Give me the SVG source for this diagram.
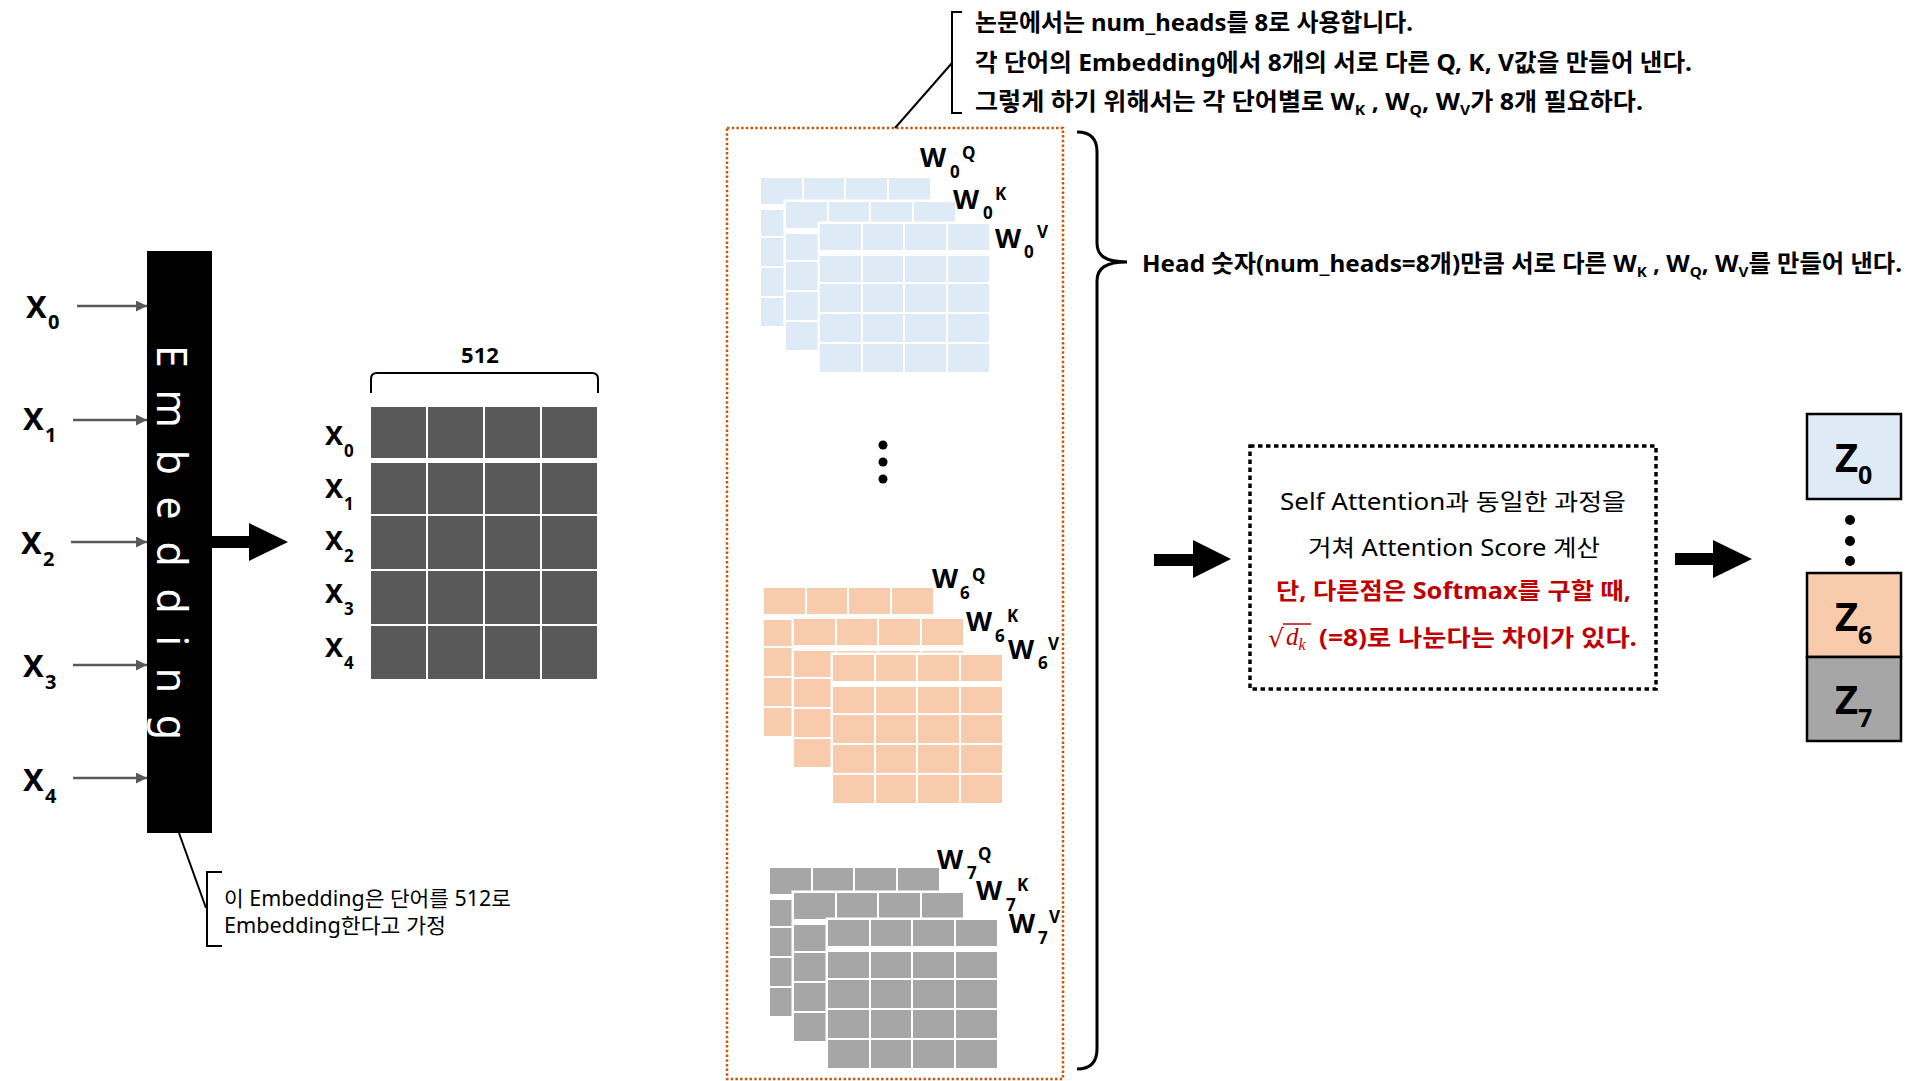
<svg xmlns="http://www.w3.org/2000/svg" xmlns:xlink="http://www.w3.org/1999/xlink" width="1932" height="1081" viewBox="0 0 1932 1081">
<style>
text{font-family:"Noto Sans","Noto Sans CJK KR",sans-serif;fill:#000}
.b{font-weight:700}
.r{font-weight:400}
.xl{font-size:31px;font-weight:700}
.xs{font-size:20px;font-weight:700}
.gl{font-size:27px;font-weight:700}
.gs{font-size:17px;font-weight:700}
.w{font-size:27px;font-weight:700}
.ws{font-size:17px;font-weight:700}
.note{font-size:24px;font-weight:700}
.red{fill:#C00000;font-weight:700;font-size:23px}
.att{font-size:23px;font-weight:400}
.z{font-size:40px;font-weight:700}
.zs{font-size:25px;font-weight:700}
.thin{fill:none;stroke:#000;stroke-width:2}
.gray{stroke:#595959;stroke-width:2.5;fill:none}
</style>
<defs>
<marker id="ah" markerUnits="userSpaceOnUse" markerWidth="12" markerHeight="12" refX="11" refY="5.5" orient="auto">
<path d="M0,0 L11,5.5 L0,11 z" fill="#595959"/>
</marker>
<g id="L">
<rect x="-2.5" y="-2.5" width="174" height="153" fill="#fff"/>
<rect x="0" y="0" width="41" height="26"/><rect x="43" y="0" width="40" height="26"/><rect x="85" y="0" width="41" height="26"/><rect x="128" y="0" width="41" height="26"/>
<rect x="0" y="32" width="41" height="26"/><rect x="43" y="32" width="40" height="26"/><rect x="85" y="32" width="41" height="26"/><rect x="128" y="32" width="41" height="26"/>
<rect x="0" y="60" width="41" height="28"/><rect x="43" y="60" width="40" height="28"/><rect x="85" y="60" width="41" height="28"/><rect x="128" y="60" width="41" height="28"/>
<rect x="0" y="90" width="41" height="28"/><rect x="43" y="90" width="40" height="28"/><rect x="85" y="90" width="41" height="28"/><rect x="128" y="90" width="41" height="28"/>
<rect x="0" y="120" width="41" height="28"/><rect x="43" y="120" width="40" height="28"/><rect x="85" y="120" width="41" height="28"/><rect x="128" y="120" width="41" height="28"/>
</g>
</defs>
<rect width="1932" height="1081" fill="#fff"/>

<!-- inputs -->
<g id="inputs">
<text class="xl" x="26" y="318">X<tspan class="xs" x="48" y="329">0</tspan></text>
<text class="xl" x="23" y="430">X<tspan class="xs" x="45" y="442">1</tspan></text>
<text class="xl" x="21" y="554">X<tspan class="xs" x="43" y="566">2</tspan></text>
<text class="xl" x="23" y="677">X<tspan class="xs" x="45" y="689">3</tspan></text>
<text class="xl" x="23" y="791">X<tspan class="xs" x="45" y="803">4</tspan></text>
</g>

<g id="embedding">
<rect x="147" y="251" width="65" height="582" fill="#000"/>
<text transform="translate(157,345) rotate(90)" x="0" y="0" font-size="41" style="fill:#fff;font-weight:400" textLength="395" lengthAdjust="spacing">Embedding</text>
</g>

<g id="matrix">
<text class="b" x="480" y="363" font-size="22" text-anchor="middle">512</text>
<path class="thin" d="M371,393 L371,379 Q371,373 377,373 L592,373 Q598,373 598,379 L598,393"/>
<g fill="#595959">
<rect x="371" y="407" width="55" height="51"/><rect x="428" y="407" width="55" height="51"/><rect x="485" y="407" width="55" height="51"/><rect x="542" y="407" width="55" height="51"/>
<rect x="371" y="463" width="55" height="51"/><rect x="428" y="463" width="55" height="51"/><rect x="485" y="463" width="55" height="51"/><rect x="542" y="463" width="55" height="51"/>
<rect x="371" y="516" width="55" height="53"/><rect x="428" y="516" width="55" height="53"/><rect x="485" y="516" width="55" height="53"/><rect x="542" y="516" width="55" height="53"/>
<rect x="371" y="571" width="55" height="53"/><rect x="428" y="571" width="55" height="53"/><rect x="485" y="571" width="55" height="53"/><rect x="542" y="571" width="55" height="53"/>
<rect x="371" y="626" width="55" height="53"/><rect x="428" y="626" width="55" height="53"/><rect x="485" y="626" width="55" height="53"/><rect x="542" y="626" width="55" height="53"/>
</g>
<text class="gl" x="325" y="445">X<tspan class="gs" x="344" y="457">0</tspan></text>
<text class="gl" x="325" y="498">X<tspan class="gs" x="344" y="510">1</tspan></text>
<text class="gl" x="325" y="550">X<tspan class="gs" x="344" y="562">2</tspan></text>
<text class="gl" x="325" y="603">X<tspan class="gs" x="344" y="615">3</tspan></text>
<text class="gl" x="325" y="657">X<tspan class="gs" x="344" y="669">4</tspan></text>
</g>

<g id="embed-note">
<path class="thin" d="M222,872 L207,872 L207,946 L222,946"/>
<text class="r" x="224" y="906" font-size="21" textLength="287" lengthAdjust="spacingAndGlyphs">이 Embedding은 단어를 512로</text>
<text class="r" x="224" y="933" font-size="21" textLength="222" lengthAdjust="spacingAndGlyphs">Embedding한다고 가정</text>
</g>

<g id="heads">
<rect x="727" y="128" width="336" height="951" fill="none" stroke="#C55A11" stroke-width="2.5" stroke-dasharray="2.5 2.2"/>
<use xlink:href="#L" href="#L" x="761" y="178" fill="#DEEBF7"/>
<use xlink:href="#L" href="#L" x="786" y="202" fill="#DEEBF7"/>
<use xlink:href="#L" href="#L" x="820" y="224" fill="#DEEBF7"/>
<text class="w" x="920" y="167">W<tspan class="ws" x="950" y="178">0</tspan><tspan class="ws" x="962" y="159">Q</tspan></text>
<text class="w" x="953" y="209">W<tspan class="ws" x="983" y="219">0</tspan><tspan class="ws" x="995" y="200">K</tspan></text>
<text class="w" x="995" y="248">W<tspan class="ws" x="1024" y="258">0</tspan><tspan class="ws" x="1037" y="238">V</tspan></text>
<circle cx="883" cy="445" r="4.5"/><circle cx="883" cy="462" r="4.5"/><circle cx="883" cy="479" r="4.5"/>
<use xlink:href="#L" href="#L" x="764" y="588" fill="#F8CBAD"/>
<use xlink:href="#L" href="#L" x="794" y="619" fill="#F8CBAD"/>
<use xlink:href="#L" href="#L" x="833" y="655" fill="#F8CBAD"/>
<text class="w" x="932" y="588">W<tspan class="ws" x="960" y="599">6</tspan><tspan class="ws" x="972" y="581">Q</tspan></text>
<text class="w" x="966" y="631">W<tspan class="ws" x="995" y="642">6</tspan><tspan class="ws" x="1007" y="622">K</tspan></text>
<text class="w" x="1008" y="659">W<tspan class="ws" x="1038" y="669">6</tspan><tspan class="ws" x="1048" y="650">V</tspan></text>
<use xlink:href="#L" href="#L" x="770" y="868" fill="#A6A6A6"/>
<use xlink:href="#L" href="#L" x="794" y="893" fill="#A6A6A6"/>
<use xlink:href="#L" href="#L" x="828" y="920" fill="#A6A6A6"/>
<text class="w" x="937" y="869">W<tspan class="ws" x="967" y="879">7</tspan><tspan class="ws" x="978" y="860">Q</tspan></text>
<text class="w" x="976" y="900">W<tspan class="ws" x="1006" y="911">7</tspan><tspan class="ws" x="1017" y="891">K</tspan></text>
<text class="w" x="1009" y="933">W<tspan class="ws" x="1038" y="944">7</tspan><tspan class="ws" x="1049" y="923">V</tspan></text>
</g>

<g id="top-note">
<path class="thin" d="M962,12 L952,12 L952,113 L962,113"/>
<text class="note" x="975" y="31" textLength="438" lengthAdjust="spacingAndGlyphs">논문에서는 num_heads를 8로 사용합니다.</text>
<text class="note" x="975" y="71" textLength="717" lengthAdjust="spacingAndGlyphs">각 단어의 Embedding에서 8개의 서로 다른 Q, K, V값을 만들어 낸다.</text>
<text class="note" x="975" y="110" textLength="668" lengthAdjust="spacingAndGlyphs">그렇게 하기 위해서는 각 단어별로 W<tspan font-size="15" dy="5">K</tspan><tspan dy="-5"> , W</tspan><tspan font-size="15" dy="5">Q</tspan><tspan dy="-5">, W</tspan><tspan font-size="15" dy="5">V</tspan><tspan dy="-5">가 8개 필요하다.</tspan></text>
</g>

<g id="head-note">
<path d="M1077,132 C1090,132 1097,138 1097,152 L1097,243 C1097,256 1106,262 1127,262 C1106,262 1097,268 1097,281 L1097,1049 C1097,1063 1090,1069 1077,1069" fill="none" stroke="#000" stroke-width="3"/>
<text class="note" x="1142" y="272" textLength="760" lengthAdjust="spacingAndGlyphs">Head 숫자(num_heads=8개)만큼 서로 다른 W<tspan font-size="15" dy="5">K</tspan><tspan dy="-5"> , W</tspan><tspan font-size="15" dy="5">Q</tspan><tspan dy="-5">, W</tspan><tspan font-size="15" dy="5">V</tspan><tspan dy="-5">를 만들어 낸다.</tspan></text>
</g>

<g id="attention">
<rect x="1250" y="446" width="406" height="243" fill="none" stroke="#000" stroke-width="3.5" stroke-dasharray="4.5 3.5"/>
<text class="att" x="1280" y="510" textLength="346" lengthAdjust="spacingAndGlyphs">Self Attention과 동일한 과정을</text>
<text class="att" x="1308" y="556" textLength="292" lengthAdjust="spacingAndGlyphs">거쳐 Attention Score 계산</text>
<text class="red" x="1276" y="599" textLength="355" lengthAdjust="spacingAndGlyphs">단, 다른점은 Softmax를 구할 때,</text>
<text x="1268" y="647" font-size="25" style="fill:#C00000;font-family:'DejaVu Serif',serif">√</text>
<line x1="1283" y1="624" x2="1311" y2="624" stroke="#C00000" stroke-width="1.5"/>
<text x="1286" y="645" font-size="25" style="fill:#C00000;font-family:'Liberation Serif',serif;font-style:italic">d<tspan font-size="16" dy="5">k</tspan></text>
<text class="red" x="1319" y="646" textLength="318" lengthAdjust="spacingAndGlyphs">(=8)로 나눈다는 차이가 있다.</text>
</g>

<g id="outputs">
<rect x="1807" y="414" width="94" height="85" fill="#DEEBF7" stroke="#000" stroke-width="2.5"/>
<rect x="1807" y="573" width="94" height="84" fill="#F8CBAD" stroke="#000" stroke-width="2.5"/>
<rect x="1807" y="657" width="94" height="84" fill="#A6A6A6" stroke="#000" stroke-width="2.5"/>
<text class="z" x="1835" y="472">Z<tspan class="zs" x="1858" y="484">0</tspan></text>
<text class="z" x="1835" y="631">Z<tspan class="zs" x="1858" y="644">6</tspan></text>
<text class="z" x="1835" y="714">Z<tspan class="zs" x="1858" y="727">7</tspan></text>
<circle cx="1850" cy="520" r="5"/><circle cx="1850" cy="541" r="5"/><circle cx="1850" cy="561" r="5"/>
</g>

<g id="connectors">
<line class="gray" x1="77" y1="306" x2="147" y2="306" marker-end="url(#ah)"/>
<line class="gray" x1="73" y1="420" x2="147" y2="420" marker-end="url(#ah)"/>
<line class="gray" x1="71" y1="542" x2="147" y2="542" marker-end="url(#ah)"/>
<line class="gray" x1="73" y1="665" x2="147" y2="665" marker-end="url(#ah)"/>
<line class="gray" x1="73" y1="778" x2="147" y2="778" marker-end="url(#ah)"/>
<polygon points="212,536 249,536 249,523 288,542 249,561 249,548 212,548" fill="#000"/>
<polygon points="1154,554 1193,554 1193,540 1231,559 1193,578 1193,566 1154,566" fill="#000"/>
<polygon points="1675,553 1713,553 1713,540 1752,559 1713,578 1713,565 1675,565" fill="#000"/>
<line class="thin" x1="179" y1="833" x2="206" y2="908"/>
<line class="thin" x1="952" y1="63" x2="895" y2="128"/>
</g>
</svg>
